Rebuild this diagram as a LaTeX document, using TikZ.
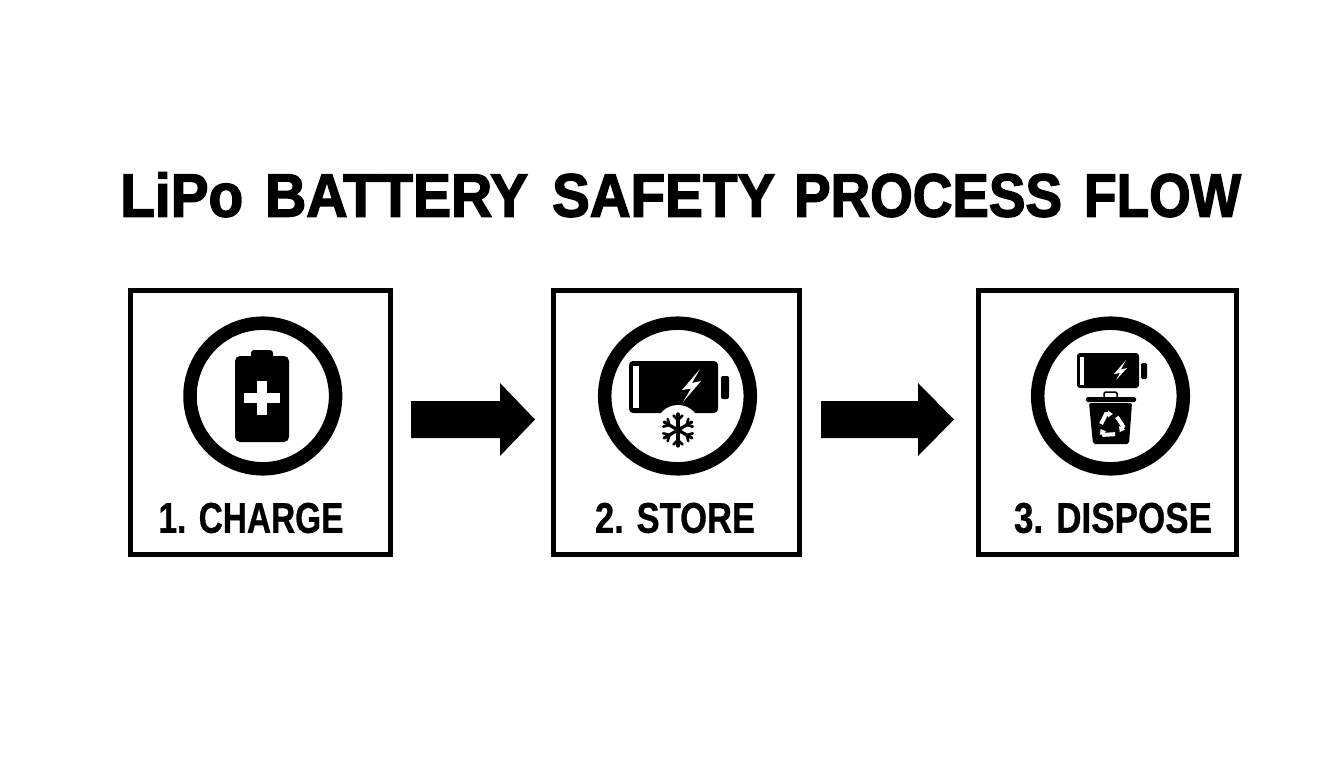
\documentclass[tikz,border=0pt]{standalone}
\usepackage{fontspec}
\usepackage{graphicx}
\usetikzlibrary{arrows.meta}
\setmainfont{Liberation Sans}
\newfontfamily\heavyfont[FakeBold=2.5]{Liberation Sans Bold}
\newfontfamily\labelfont[FakeBold=0.8]{Liberation Sans Bold}
\newcommand{\fitword}[2]{\resizebox{#1}{\height}{#2}}
\tikzset{
  panel/.style={draw=black,line width=5pt,fill=white},
  ring/.style={draw=black,line width=13.5pt,fill=white},
  ink/.style={fill=black,draw=none},
  paper/.style={fill=white,draw=none},
  steplabel/.style={font=\labelfont\fontsize{40}{40}\selectfont,inner sep=0,anchor=center},
  snow/.style={draw=black,line width=2.6pt,line cap=round},
  titletext/.style={font=\heavyfont\fontsize{61}{61}\selectfont,inner sep=0,anchor=base west}
}
\begin{document}
\begin{tikzpicture}[x=1pt,y=-1pt]
\useasboundingbox (0,0) rectangle (1344,768);
\fill[white] (0,0) rectangle (1344,768);
\node[titletext] (title) at (120,216.5) {\fitword{123pt}{LiPo} \hspace{5pt}\fitword{263pt}{BATTERY} \hspace{7pt}\fitword{223pt}{SAFETY} \hspace{2pt}\fitword{268pt}{PROCESS} \hspace{5pt}\fitword{157pt}{FLOW}};
\draw[panel] (130.2,290) rectangle (390.2,554);
\draw[panel] (553.3,290) rectangle (799.7,554);
\draw[panel] (978.5,290) rectangle (1236,554);
\node[steplabel] (l1) at (251,518) {\resizebox{185pt}{30pt}{1. CHARGE}};
\node[steplabel] (l2) at (675,518) {\resizebox{160pt}{30pt}{2. STORE}};
\node[steplabel] (l3) at (1113,518) {\resizebox{198pt}{30pt}{3. DISPOSE}};
\draw[ring] (262.8,396) circle (72.8);
\draw[ring] (677.5,396) circle (72.8);
\draw[ring] (1110.5,396) circle (72.8);
% arrows
\fill[ink] (411,401) -- (500,401) -- (500,383) -- (535,419.5) -- (500,456) -- (500,438) -- (411,438) -- cycle;
\fill[ink] (821,401) -- (918,401) -- (918,383) -- (954,419.5) -- (918,456) -- (918,438) -- (821,438) -- cycle;
% battery 1
\fill[ink,rounded corners=3pt] (251,350) rectangle (273,362);
\fill[ink,rounded corners=5pt] (235,356) rectangle (289,442);
\fill[paper] (257,381) rectangle (267,415);
\fill[paper] (244,393) rectangle (280,403);
% battery 2
\fill[ink,rounded corners=4pt] (629,361) rectangle (718,413);
\fill[ink,rounded corners=2pt] (721,376) rectangle (729,399);
\fill[paper] (633,366) rectangle (639,408);
\fill[paper] (700,369) -- (682,390) -- (691,388.5) -- (683,402) -- (701,381) -- (692,383) -- cycle;
\fill[paper] (678,427) circle (22);
\begin{scope}[shift={(678,430)}]
\foreach \a in {0,60,120}{
\draw[snow,rotate=\a,line width=3.2pt] (0,-16) -- (0,16);
\draw[snow,rotate=\a,line width=2.6pt] (-4.5,-14.5) -- (0,-10) -- (4.5,-14.5);
\draw[snow,rotate=\a,line width=2.6pt] (-4.5,14.5) -- (0,10) -- (4.5,14.5);
}
\end{scope}
% battery 3
\fill[ink,rounded corners=3pt] (1077,353) rectangle (1139,388);
\fill[ink,rounded corners=1.5pt] (1141,363) rectangle (1147,379);
\fill[paper] (1080,357) rectangle (1084,385);
\fill[paper] (1126,360) -- (1114,374) -- (1120,373) -- (1116,380) -- (1127,368) -- (1121,369.5) -- cycle;
% bin
\draw[black,line width=1.5pt,rounded corners=1.5pt] (1104,397) -- (1104,392) -- (1117,392) -- (1117,397);
\fill[ink,rounded corners=1.5pt] (1086,397) rectangle (1136,402);
\fill[ink,rounded corners=2pt] (1089,403) -- (1132,403) -- (1129,444) -- (1093,444) -- cycle;
\begin{scope}[shift={(1111,425)}]
\foreach \a in {0,120,240}{
\draw[white,line width=4pt,rotate=\a,-{Latex[length=5pt,width=8pt]}] (-10,-1) -- (-5,-11) -- (2,-11);
}
\end{scope}
\end{tikzpicture}
\end{document}
